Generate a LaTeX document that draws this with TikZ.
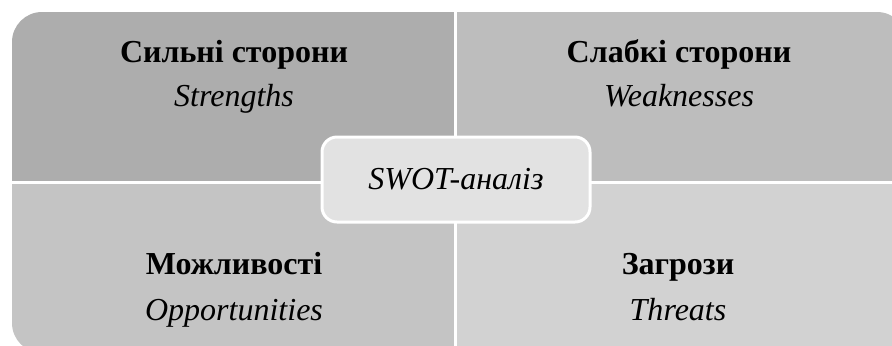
\documentclass[tikz,border=0pt]{standalone}
\usepackage{fontspec}
\setmainfont{Liberation Serif}
\usepackage{tikz}
\usetikzlibrary{positioning}
\definecolor{swotS}{HTML}{ADADAD}
\definecolor{swotW}{HTML}{BDBDBD}
\definecolor{swotO}{HTML}{C4C4C4}
\definecolor{swotT}{HTML}{D2D2D2}
\definecolor{swotC}{HTML}{E2E2E2}

\begin{document}
\begin{tikzpicture}[x=0.5pt, y=0.5pt,
    title/.style={anchor=base, inner sep=0pt, font=\fontsize{16}{19}\selectfont\bfseries},
    sub/.style={anchor=base, inner sep=0pt, font=\fontsize{16}{19}\selectfont\itshape},
    sep/.style={white, line width=1.5pt}]
    \useasboundingbox (0,0) rectangle (892,345);

    % чотири квадранти
    \begin{scope}
        \clip[rounded corners=15pt] (12,-8) rectangle (907,333);
        \fill[swotS] (12,163) rectangle (455.5,333);
        \fill[swotW] (455.5,163) rectangle (907,333);
        \fill[swotO] (12,-8) rectangle (455.5,163);
        \fill[swotT] (455.5,-8) rectangle (907,163);
    \end{scope}
    \coordinate (top) at (455.5,333);
    \coordinate (bottom) at (455.5,-8);
    \coordinate (left) at (12,163);
    \coordinate (right) at (907,163);
    \draw[sep] (top) -- (bottom);
    \draw[sep] (left) -- (right);

    % сильні сторони
    \node[title] (s) at (234,283) {Сильні сторони};
    \node[sub] (s-en) at (234,239) {Strengths};

    % слабкі сторони
    \node[title] (w) at (679,283) {Слабкі сторони};
    \node[sub] (w-en) at (679,239) {Weaknesses};

    % можливості
    \node[title] (o) at (234,71) {Можливості};
    \node[sub] (o-en) at (234,25) {Opportunities};

    % загрози
    \node[title] (t) at (678,71) {Загрози};
    \node[sub] (t-en) at (678,25) {Threats};

    % центр
    \node[draw=white, line width=1.5pt, fill=swotC, rounded corners=7.5pt,
          minimum width=134pt, minimum height=42.5pt,
          font=\fontsize{16}{19}\selectfont\itshape] (swot) at (456,165.5) {SWOT-аналіз};
\end{tikzpicture}
\end{document}
